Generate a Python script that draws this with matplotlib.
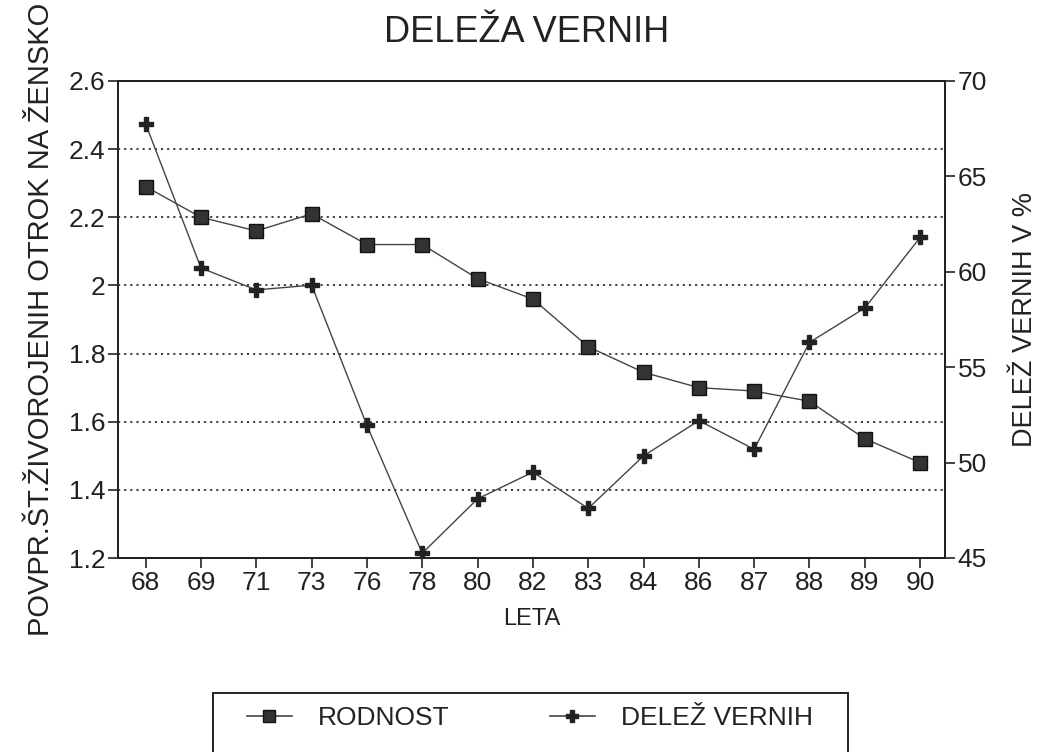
import matplotlib
matplotlib.use("Agg")
import matplotlib.pyplot as plt
from matplotlib.lines import Line2D
from matplotlib.patches import Rectangle

plt.rcParams['font.family'] = ['Liberation Sans', 'DejaVu Sans']

years = ["68", "69", "71", "73", "76", "78", "80", "82", "83", "84", "86", "87", "88", "89", "90"]
rodnost = [2.29, 2.20, 2.16, 2.21, 2.12, 2.12, 2.02, 1.96, 1.82, 1.745, 1.70, 1.69, 1.66, 1.55, 1.48]
delez_vernih = [67.75, 60.2, 59.05, 59.3, 51.95, 45.25, 48.1, 49.5, 47.6, 50.35, 52.2, 50.7, 56.3, 58.1, 61.8]
left_ticks = [1.2, 1.4, 1.6, 1.8, 2.0, 2.2, 2.4, 2.6]
left_labels = ["1.2", "1.4", "1.6", "1.8", "2", "2.2", "2.4", "2.6"]
right_ticks = [45, 50, 55, 60, 65, 70]

W, H = 1038, 752
fig = plt.figure(figsize=(W / 100, H / 100), dpi=100)
ax = fig.add_axes([118 / W, 1 - 558 / H, (945 - 118) / W, (558 - 81) / H])
ax2 = ax.twinx()

x = list(range(len(years)))
ink = '#222222'

ax.plot(x, rodnost, color='#444444', lw=1.0, marker='s', markersize=10,
        markerfacecolor='#333333', markeredgecolor='#111111', zorder=3)
ax2.plot(x, delez_vernih, color='#444444', lw=1.0, marker='P', markersize=10,
         markerfacecolor='#222222', markeredgecolor='#222222', zorder=3)

ax.set_xlim(-0.5, 14.45)
ax.set_ylim(1.2, 2.6)
ax2.set_ylim(45, 70)
ax.set_xticks(x)
ax.set_xticklabels(years, fontsize=19, color=ink)
ax.set_yticks(left_ticks)
ax.set_yticklabels(left_labels, fontsize=19, color=ink)
ax2.set_yticks(right_ticks)
ax2.set_yticklabels([str(t) for t in right_ticks], fontsize=19, color=ink)

for a in (ax, ax2):
    a.tick_params(direction='out', length=7, width=1.2, color=ink, pad=2)
    for s in a.spines.values():
        s.set_linewidth(1.4)
        s.set_color(ink)

for t in left_ticks[1:-1]:
    ax.axhline(t, color='#333333', lw=1.3, ls=(0, (1.2, 2.2)), zorder=1)

ax.set_xlabel("LETA", fontsize=17, color=ink, labelpad=10)
ax.set_ylabel("POVPR.ŠT.ŽIVOROJENIH OTROK NA ŽENSKO", fontsize=21, color=ink, labelpad=10)
ax2.set_ylabel("DELEŽ VERNIH V %", fontsize=19.5, color=ink, labelpad=18)

fig.text(527 / W, 1 - 33 / H, "DELEŽA VERNIH", fontsize=26, color=ink,
         ha='center', va='center')

# legend box (cut off at bottom like the reference)
fig.patches.append(Rectangle((213 / W, -0.05), (848 - 213) / W, 1 - 693 / H + 0.05,
                             transform=fig.transFigure, fill=False,
                             edgecolor=ink, lw=1.4))
handles = [
    Line2D([], [], color='#444444', lw=1.2, marker='s', markersize=9,
           markerfacecolor='#333333', markeredgecolor='#111111'),
    Line2D([], [], color='#444444', lw=1.2, marker='P', markersize=9,
           markerfacecolor='#222222', markeredgecolor='#222222'),
]
fig.legend(handles, ["RODNOST", "DELEŽ VERNIH"], loc='center',
           bbox_to_anchor=(530 / W, 1 - 718 / H), ncol=2, frameon=False,
           fontsize=19, handlelength=1.7, handletextpad=1.0,
           columnspacing=3.8, labelcolor=ink)

fig.savefig("out.png", dpi=100, facecolor='white')
